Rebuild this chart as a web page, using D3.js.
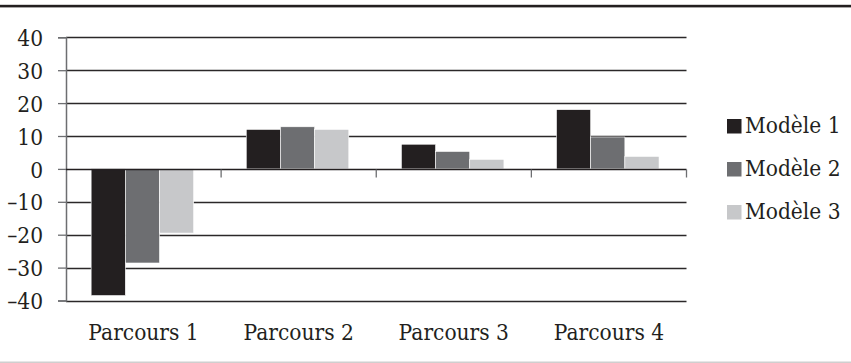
<!DOCTYPE html>
<html>
<head>
<meta charset="utf-8">
<script src="https://cdn.jsdelivr.net/npm/d3@7"></script>
<style>
  html, body { margin: 0; padding: 0; background: #fff; }
  svg { display: block; }
</style>
</head>
<body>
<svg id="chart" width="851" height="363"></svg>
<script>
// Chart data
const categories = ["Parcours 1", "Parcours 2", "Parcours 3", "Parcours 4"];
const seriesNames = ["Modèle 1", "Modèle 2", "Modèle 3"];
const modele1 = [-38.5, 12.0, 7.5, 18.0];
const modele2 = [-28.6, 12.8, 5.3, 9.7];
const modele3 = [-19.5, 12.0, 2.9, 3.8];
const yTicks = [-40, -30, -20, -10, 0, 10, 20, 30, 40];

const seriesValues = [modele1, modele2, modele3];
const colors = ["#231f20", "#6d6e71", "#c7c8ca"];
const FONT = "'DejaVu Serif', serif";
const FONT_SIZE = 22.5;
const SQUEEZE = 0.9; // horizontal condensing of the serif labels
const INK = "#231f20";

// Condense text horizontally while keeping its anchor point in place
function condense(sel) {
  sel.each(function () {
    const t = d3.select(this);
    const x0 = +t.attr("x") || 0;
    t.attr("x", x0 / SQUEEZE).attr("transform", `scale(${SQUEEZE},1)`);
  });
}

const svg = d3.select("#chart");
const W = 851;

// Rules at the top and bottom of the figure
svg.append("rect").attr("x", 0).attr("y", 4.8).attr("width", W).attr("height", 2.6).attr("fill", INK);
svg.append("rect").attr("x", 0).attr("y", 361.5).attr("width", W).attr("height", 1.5).attr("fill", "#cfcfcf");

const plotLeft = 66, plotRight = 686.5;
const x = d3.scaleBand().domain(categories).range([plotLeft, plotRight]).paddingInner(0).paddingOuter(0);
const y = d3.scaleLinear().domain([-40, 40]).range([300.5, 37.3]);
const sub = d3.scaleBand().domain(seriesNames)
  .range([x.bandwidth() * 0.162, x.bandwidth() * 0.823]).paddingInner(0);

// Horizontal grid lines
svg.append("g").selectAll("line").data(yTicks.filter(d => d !== 0)).join("line")
  .attr("x1", plotLeft).attr("x2", plotRight)
  .attr("y1", d => Math.round(y(d)) + 0.5).attr("y2", d => Math.round(y(d)) + 0.5)
  .attr("stroke", "#2b2829").attr("stroke-width", 1.3);

// Y axis with tick marks and labels
const yAxis = d3.axisLeft(y).tickValues(yTicks).tickSize(8).tickPadding(15)
  .tickFormat(d => (d < 0 ? "\u2013" + Math.abs(d) : String(d)));
const gy = svg.append("g").attr("transform", `translate(${plotLeft},0)`).call(yAxis)
  .attr("font-family", FONT);
gy.select(".domain").attr("stroke", "#6d6e71").attr("stroke-width", 1.5);
gy.selectAll(".tick line").attr("stroke", "#6d6e71").attr("stroke-width", 1.3);
gy.selectAll(".tick text")
  .attr("font-size", FONT_SIZE).style("font-family", FONT)
  .attr("fill", INK).attr("dy", "0.36em")
  .call(condense);

// Bars
const groups = svg.append("g").selectAll("g").data(categories).join("g")
  .attr("transform", c => `translate(${x(c)},0)`);
groups.selectAll("rect")
  .data((c, i) => seriesNames.map((s, k) => ({ s, k, v: seriesValues[k][i] })))
  .join("rect")
  .attr("x", d => sub(d.s))
  .attr("width", sub.bandwidth())
  .attr("y", d => y(Math.max(0, d.v)))
  .attr("height", d => Math.abs(y(d.v) - y(0)))
  .attr("fill", d => colors[d.k])
  .attr("stroke", "#ffffff").attr("stroke-width", 0.6);

// Zero axis with category boundary ticks
const zeroY = Math.round(y(0)) + 0.5;
svg.append("line").attr("x1", plotLeft).attr("x2", plotRight)
  .attr("y1", zeroY).attr("y2", zeroY).attr("stroke", INK).attr("stroke-width", 1.5);
const boundaries = categories.map(c => x(c) + x.bandwidth());
svg.append("g").selectAll("line").data(boundaries).join("line")
  .attr("x1", d => d).attr("x2", d => d)
  .attr("y1", zeroY).attr("y2", zeroY + 8)
  .attr("stroke", "#6d6e71").attr("stroke-width", 1.3);

// Category labels
svg.append("g").selectAll("text").data(categories).join("text")
  .attr("x", c => x(c) + x.bandwidth() / 2)
  .attr("y", 340)
  .attr("text-anchor", "middle")
  .style("font-family", FONT)
  .attr("font-size", FONT_SIZE)
  .attr("fill", INK)
  .text(c => c)
  .call(condense);

// Legend
const legendBaselines = [133.5, 176.5, 219.5];
const legend = svg.append("g").selectAll("g").data(seriesNames).join("g");
legend.append("rect")
  .attr("x", 727).attr("y", (d, i) => legendBaselines[i] - 14.5)
  .attr("width", 14.5).attr("height", 14.5)
  .attr("fill", (d, i) => colors[i]);
legend.append("text")
  .attr("x", 745).attr("y", (d, i) => legendBaselines[i])
  .style("font-family", FONT)
  .attr("font-size", FONT_SIZE)
  .attr("fill", INK)
  .text(d => d)
  .call(condense);
</script>
</body>
</html>
